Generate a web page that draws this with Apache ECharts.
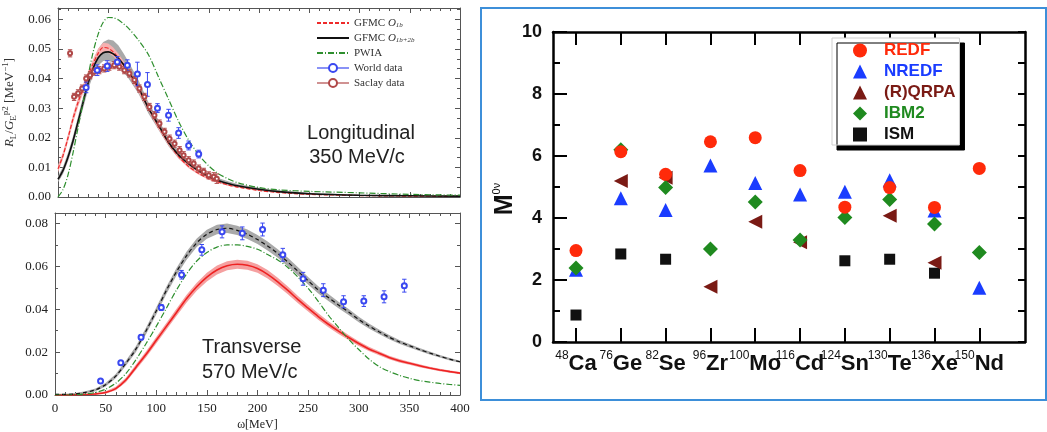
<!DOCTYPE html>
<html><head><meta charset="utf-8">
<script src="https://cdn.jsdelivr.net/npm/echarts@6/dist/echarts.min.js"></script>
<style>html,body{margin:0;padding:0;background:#fff}#c{width:1047px;height:432px}</style>
</head><body><div id="c"></div>
<script>
// ---------- Left top: longitudinal response ----------
const omegaL = [0,5,10,15,20,25,30,35,40,45,50,55,60,65,70,80,90,100,110,120,130,140,150,160,170,180,200,220,250,300,350,400];
const longGFMC1b   = [0.0095,0.0140,0.0200,0.0265,0.0320,0.0365,0.0410,0.0450,0.0485,0.0505,0.0502,0.0490,0.0470,0.0447,0.0422,0.0365,0.0300,0.0238,0.0182,0.0137,0.0103,0.0080,0.0062,0.0050,0.0040,0.0033,0.0022,0.0015,0.0009,0.0005,0.0003,0.0002];
const longGFMC1bHi = [0.0107,0.0152,0.0213,0.0279,0.0335,0.0380,0.0425,0.0466,0.0501,0.0521,0.0518,0.0505,0.0484,0.0460,0.0434,0.0376,0.0310,0.0247,0.0190,0.0144,0.0109,0.0085,0.0066,0.0053,0.0043,0.0035,0.0024,0.0016,0.0010,0.0006,0.0004,0.0003];
const longGFMC1bLo = [0.0083,0.0128,0.0187,0.0251,0.0305,0.0350,0.0395,0.0434,0.0469,0.0489,0.0486,0.0475,0.0456,0.0434,0.0410,0.0354,0.0290,0.0229,0.0174,0.0130,0.0097,0.0075,0.0058,0.0047,0.0037,0.0031,0.0020,0.0014,0.0008,0.0004,0.0002,0.0001];
const longGFMC12b   = [0.0060,0.0090,0.0135,0.0190,0.0255,0.0320,0.0385,0.0435,0.0470,0.0487,0.0490,0.0483,0.0468,0.0448,0.0425,0.0370,0.0300,0.0243,0.0185,0.0142,0.0112,0.0088,0.0068,0.0055,0.0045,0.0037,0.0026,0.0018,0.0011,0.0006,0.0004,0.0003];
const longGFMC12bHi = [0.0070,0.0102,0.0149,0.0206,0.0273,0.0340,0.0407,0.0461,0.0500,0.0523,0.0532,0.0528,0.0512,0.0486,0.0457,0.0395,0.0320,0.0260,0.0200,0.0155,0.0123,0.0098,0.0077,0.0063,0.0052,0.0043,0.0031,0.0022,0.0014,0.0008,0.0006,0.0004];
const longGFMC12bLo = [0.0050,0.0078,0.0121,0.0174,0.0237,0.0300,0.0363,0.0411,0.0444,0.0459,0.0460,0.0453,0.0440,0.0422,0.0401,0.0349,0.0282,0.0227,0.0171,0.0130,0.0101,0.0078,0.0059,0.0047,0.0038,0.0031,0.0021,0.0014,0.0008,0.0004,0.0002,0.0002];
const longPWIA = [0.0000,0.0025,0.0075,0.0150,0.0235,0.0320,0.0410,0.0490,0.0550,0.0590,0.0606,0.0605,0.0598,0.0585,0.0570,0.0530,0.0480,0.0405,0.0330,0.0255,0.0192,0.0143,0.0105,0.0078,0.0060,0.0047,0.0032,0.0024,0.0019,0.0014,0.0009,0.0006];
// [omega, value, error]
const longWorld = [[28,0.0370,0.0018],[39,0.0428,0.0018],[49,0.0442,0.0018],[59,0.0456,0.0018],[69,0.0445,0.0018],[79,0.0415,0.0040],[89,0.0380,0.0040],[99,0.0300,0.0015],[110,0.0276,0.0020],[120,0.0216,0.0018],[130,0.0174,0.0015],[140,0.0145,0.0013]];
const longSaclay = [[12,0.0485,0.0012],[16,0.0338,0.0012],[20,0.0350,0.0012],[24,0.0366,0.0012],[28,0.0400,0.0012],[32,0.0411,0.0012],[36,0.0423,0.0012],[41,0.0428,0.0012],[46,0.0434,0.0012],[51,0.0440,0.0012],[56,0.0445,0.0012],[61,0.0440,0.0012],[66,0.0428,0.0012],[71,0.0417,0.0012],[76,0.0395,0.0012],[81,0.0366,0.0012],[86,0.0338,0.0012],[91,0.0304,0.0012],[96,0.0276,0.0012],[101,0.0248,0.0012],[106,0.0220,0.0012],[111,0.0197,0.0012],[116,0.0180,0.0012],[121,0.0158,0.0012],[125,0.0141,0.0012],[130,0.0124,0.0012],[135,0.0113,0.0012],[140,0.0096,0.0012],[145,0.0085,0.0012],[150,0.0073,0.0012],[155,0.0068,0.0014],[158,0.0062,0.0016]];

// ---------- Left bottom: transverse response ----------
const omegaT = [0,10,20,30,40,50,60,70,80,90,100,110,120,130,140,150,160,170,180,190,200,210,220,230,240,250,260,270,280,290,300,310,320,330,340,350,360,370,380,390,400];
const transGFMC1b   = [0.0000,0.0000,0.0001,0.0002,0.0005,0.0012,0.0030,0.0070,0.0130,0.0190,0.0255,0.0320,0.0385,0.0450,0.0505,0.0550,0.0583,0.0603,0.0610,0.0605,0.0590,0.0563,0.0528,0.0488,0.0445,0.0405,0.0366,0.0330,0.0298,0.0268,0.0240,0.0215,0.0195,0.0175,0.0160,0.0148,0.0136,0.0126,0.0117,0.0109,0.0102];
const transGFMC1bHi = [0.0001,0.0001,0.0003,0.0005,0.0009,0.0018,0.0038,0.0080,0.0142,0.0204,0.0270,0.0336,0.0402,0.0468,0.0524,0.0570,0.0604,0.0624,0.0631,0.0626,0.0610,0.0583,0.0547,0.0506,0.0462,0.0421,0.0381,0.0344,0.0311,0.0280,0.0251,0.0225,0.0204,0.0183,0.0168,0.0155,0.0143,0.0132,0.0123,0.0114,0.0107];
const transGFMC1bLo = [0.0000,0.0000,0.0000,0.0000,0.0001,0.0006,0.0022,0.0060,0.0118,0.0176,0.0240,0.0304,0.0368,0.0432,0.0486,0.0530,0.0562,0.0582,0.0589,0.0584,0.0570,0.0543,0.0509,0.0470,0.0428,0.0389,0.0351,0.0316,0.0285,0.0256,0.0229,0.0205,0.0186,0.0167,0.0152,0.0141,0.0129,0.0120,0.0111,0.0104,0.0097];
const transGFMC12b   = [0.0003,0.0003,0.0005,0.0012,0.0024,0.0048,0.0088,0.0148,0.0215,0.0300,0.0392,0.0488,0.0575,0.0650,0.0710,0.0750,0.0772,0.0778,0.0768,0.0750,0.0725,0.0695,0.0660,0.0620,0.0577,0.0533,0.0490,0.0455,0.0420,0.0387,0.0352,0.0322,0.0295,0.0270,0.0248,0.0230,0.0212,0.0196,0.0181,0.0167,0.0155];
const transGFMC12bHi = [0.0006,0.0006,0.0009,0.0017,0.0030,0.0056,0.0098,0.0160,0.0229,0.0315,0.0408,0.0505,0.0593,0.0669,0.0730,0.0771,0.0794,0.0800,0.0790,0.0772,0.0746,0.0716,0.0680,0.0640,0.0596,0.0551,0.0507,0.0471,0.0435,0.0401,0.0365,0.0334,0.0306,0.0280,0.0257,0.0238,0.0219,0.0203,0.0187,0.0173,0.0160];
const transGFMC12bLo = [0.0000,0.0000,0.0001,0.0007,0.0018,0.0040,0.0078,0.0136,0.0201,0.0285,0.0376,0.0471,0.0557,0.0631,0.0690,0.0729,0.0750,0.0756,0.0746,0.0728,0.0704,0.0674,0.0640,0.0600,0.0558,0.0515,0.0473,0.0439,0.0405,0.0373,0.0339,0.0310,0.0284,0.0260,0.0239,0.0222,0.0205,0.0189,0.0175,0.0161,0.0150];
const transPWIA = [0.0000,0.0000,0.0002,0.0005,0.0012,0.0027,0.0055,0.0100,0.0165,0.0240,0.0320,0.0405,0.0490,0.0565,0.0625,0.0665,0.0690,0.0700,0.0700,0.0693,0.0680,0.0655,0.0630,0.0595,0.0550,0.0498,0.0437,0.0372,0.0315,0.0260,0.0212,0.0168,0.0133,0.0110,0.0092,0.0078,0.0067,0.0060,0.0054,0.0049,0.0045];
const transWorld = [[45,0.0065,0.0005],[65,0.0150,0.0006],[85,0.0269,0.0012],[105,0.0408,0.0014],[125,0.0561,0.0020],[145,0.0677,0.0025],[165,0.0761,0.0028],[185,0.0754,0.0030],[205,0.0772,0.0030],[225,0.0654,0.0030],[245,0.0542,0.0030],[265,0.0489,0.0030],[285,0.0435,0.0028],[305,0.0438,0.0025],[325,0.0458,0.0028],[345,0.0510,0.0030]];

// ---------- Right: nuclear matrix elements ----------
const massNumbers = ['48','76','82','96','100','116','124','130','136','150'];
const elements = ['Ca','Ge','Se','Zr','Mo','Cd','Sn','Te','Xe','Nd'];
const REDF  = [2.95,6.14,5.41,6.46,6.59,5.53,4.35,4.98,4.34,5.60];
const NREDF = [2.33,4.64,4.26,5.69,5.13,4.76,4.85,5.22,4.24,1.75];
const RQRPA = [null,5.19,5.30,1.78,3.88,3.22,null,4.07,2.56,null];
const IBM2  = [2.39,6.20,4.98,3.00,4.52,3.29,4.02,4.60,3.81,2.89];
const ISM   = [0.87,2.84,2.67,null,null,null,2.62,2.67,2.22,null];
const tickIdx = [0,1,2,3,4,5,6,7,8,9];
const labelIdxEven = [0,2,4,6,8];
const labelIdxOdd = [1,3,5,7,9];

// ---------- helpers ----------
const SERIF = 'Liberation Serif';
const SANS = 'Liberation Sans';
const pairs = (xs, ys) => xs.map((x, i) => [x, ys[i]]);
function bandSeries(xs, lo, hi, color, xi, yi) {
  return {
    type: 'custom', silent: true, clip: true, xAxisIndex: xi, yAxisIndex: yi, z: 1,
    data: xs.map((x, i) => [x, lo[i], hi[i]]),
    encode: { x: 0, y: [1, 2] },
    renderItem: function (params, api) {
      if (params.dataIndex !== 0) return null;
      const pts = [];
      for (let i = 0; i < xs.length; i++) pts.push(api.coord([xs[i], lo[i]]));
      for (let i = xs.length - 1; i >= 0; i--) pts.push(api.coord([xs[i], hi[i]]));
      return { type: 'polygon', shape: { points: pts }, style: { fill: color } };
    }
  };
}
function errSeries(data, color, xi, yi) {
  return {
    type: 'custom', silent: true, xAxisIndex: xi, yAxisIndex: yi, z: 4,
    data: data, encode: { x: 0, y: 1 },
    renderItem: function (params, api) {
      const x = api.value(0), y = api.value(1), e = api.value(2);
      const a = api.coord([x, y - e]), b = api.coord([x, y + e]);
      const st = { stroke: color, lineWidth: 1 };
      return { type: 'group', children: [
        { type: 'line', shape: { x1: a[0], y1: a[1], x2: b[0], y2: b[1] }, style: st },
        { type: 'line', shape: { x1: a[0] - 2.2, y1: a[1], x2: a[0] + 2.2, y2: a[1] }, style: st },
        { type: 'line', shape: { x1: b[0] - 2.2, y1: b[1], x2: b[0] + 2.2, y2: b[1] }, style: st }
      ]};
    }
  };
}
function lineSeries(name, xs, ys, color, type, width, xi, yi) {
  return { name: name, type: 'line', data: pairs(xs, ys), symbol: 'none', smooth: 0.3,
    xAxisIndex: xi, yAxisIndex: yi, z: 3,
    lineStyle: { color: color, type: type, width: width }, itemStyle: { color: color } };
}
function pointSeries(name, data, color, size, xi, yi) {
  return { name: name, type: 'line', data: data.map(d => [d[0], d[1]]), symbol: 'emptyCircle',
    symbolSize: size, showSymbol: true, xAxisIndex: xi, yAxisIndex: yi, z: 5,
    lineStyle: { opacity: 0 }, itemStyle: { color: color, borderWidth: 0.9 } };
}
const FRAME = '#555';
function leftX(gi, pos, labels, name) {
  return { gridIndex: gi, type: 'value', position: pos, min: 0, max: 400, interval: 50,
    axisLine: { show: true, onZero: false, lineStyle: { color: FRAME, width: 1 } },
    axisTick: { show: true, inside: true, length: 5, lineStyle: { color: FRAME } },
    minorTick: { show: true, splitNumber: 5, length: 3, lineStyle: { color: FRAME } },
    axisLabel: { show: labels, fontFamily: SERIF, fontSize: 13, color: '#222', margin: 7 },
    splitLine: { show: false },
    name: name || '', nameLocation: 'middle', nameGap: 24,
    nameTextStyle: { fontFamily: SERIF, fontSize: 12, color: '#222' } };
}
function leftY(gi, pos, max, interval, minorSplit, labels) {
  return { gridIndex: gi, type: 'value', position: pos, min: 0, max: max, interval: interval,
    axisLine: { show: true, onZero: false, lineStyle: { color: FRAME, width: 1 } },
    axisTick: { show: true, inside: true, length: 5, lineStyle: { color: FRAME } },
    minorTick: { show: true, splitNumber: minorSplit, length: 3, lineStyle: { color: FRAME } },
    axisLabel: { show: labels, showMaxLabel: false, fontFamily: SERIF, fontSize: 13, color: '#222', margin: 7,
      formatter: v => (Math.abs(v / interval - Math.round(v / interval)) < 1e-6 ? v.toFixed(2) : '') },
    splitLine: { show: false } };
}
function nucleusLabelAxis(values, withLine) {
  return { gridIndex: 2, type: 'value', position: 'bottom', offset: 0, min: -0.513, max: 10.02,
    axisLine: { show: withLine, onZero: false, lineStyle: { color: '#000', width: 2.5 } },
    axisTick: { show: withLine, inside: true, length: 14, customValues: tickIdx, lineStyle: { color: '#000', width: 2 } },
    axisLabel: { show: true, customValues: values, showMinLabel: true, showMaxLabel: true,
      margin: 8, color: '#111', fontFamily: SANS,
      formatter: v => { const i = Math.round(v); return '{s|' + massNumbers[i] + '}{e|' + elements[i] + '}'; },
      rich: { s: { fontSize: 12, fontFamily: SANS, color: '#111', verticalAlign: 'top', lineHeight: 12 },
              e: { fontSize: 22, fontFamily: SANS, fontWeight: 'bold', color: '#111', lineHeight: 27 } } },
    splitLine: { show: false } };
}
const nullIfMissing = arr => arr.map((v, i) => v == null ? null : [i, v]);

const chart = echarts.init(document.getElementById('c'), null, { renderer: 'canvas' });
const option = {
  backgroundColor: '#fff',
  animation: false,
  grid: [
    { left: 55, top: 8, width: 405, height: 189 },
    { left: 55, top: 213, width: 405, height: 184 },
    { left: 553, top: 32, width: 472, height: 310 }
  ],
  xAxis: [
    leftX(0, 'bottom', false),
    leftX(0, 'top', false),
    leftX(1, 'bottom', true, 'ω[MeV]'),
    leftX(1, 'top', false),
    nucleusLabelAxis(labelIdxEven, true),
    { gridIndex: 2, type: 'value', position: 'top', min: -0.513, max: 10.02,
      axisLine: { show: true, onZero: false, lineStyle: { color: '#000', width: 2.5 } },
      axisTick: { show: true, inside: true, length: 13, customValues: tickIdx, lineStyle: { color: '#000', width: 2 } },
      axisLabel: { show: false }, splitLine: { show: false } },
    nucleusLabelAxis(labelIdxOdd, false)
  ],
  yAxis: [
    Object.assign(leftY(0, 'left', 0.0638, 0.01, 3, true), {
      name: '{i|R}{sb|L}{n|/}{i|G}{sb|E}{sp|p2}{n| [MeV}{sp|−1}{n|]}',
      nameLocation: 'middle', nameGap: 40,
      nameTextStyle: { fontFamily: SERIF, fontSize: 13, color: '#333',
        rich: { i: { fontFamily: SERIF, fontStyle: 'italic', fontSize: 13, color: '#333', lineHeight: 17 },
                n: { fontFamily: SERIF, fontSize: 13, color: '#333', lineHeight: 17 },
                sb: { fontFamily: SERIF, fontSize: 9, color: '#333', verticalAlign: 'bottom', lineHeight: 9 },
                sp: { fontFamily: SERIF, fontSize: 9, color: '#333', verticalAlign: 'top', lineHeight: 9 } } } }),
    leftY(0, 'right', 0.0638, 0.01, 3, false),
    leftY(1, 'left', 0.0849, 0.02, 2, true),
    leftY(1, 'right', 0.0849, 0.02, 2, false),
    { gridIndex: 2, type: 'value', position: 'left', min: 0, max: 10, interval: 2,
      axisLine: { show: true, onZero: false, lineStyle: { color: '#000', width: 2.5 } },
      axisTick: { show: true, inside: true, length: 14, lineStyle: { color: '#000', width: 2 } },
      minorTick: { show: true, splitNumber: 2, length: 7, lineStyle: { color: '#000', width: 2 } },
      axisLabel: { fontFamily: SANS, fontWeight: 'bold', fontSize: 18, color: '#111', margin: 11 },
      splitLine: { show: false },
      name: '{m|M}{s|0ν}', nameLocation: 'middle', nameGap: 34,
      nameTextStyle: { padding: [0, 24, 0, 0],
        rich: { m: { fontFamily: SANS, fontWeight: 'bold', fontSize: 25, color: '#111', lineHeight: 28 },
                s: { fontFamily: SANS, fontSize: 11, color: '#111', verticalAlign: 'top', lineHeight: 12 } } } },
    { gridIndex: 2, type: 'value', position: 'right', min: 0, max: 10, interval: 1,
      axisLine: { show: true, onZero: false, lineStyle: { color: '#000', width: 2.5 } },
      axisTick: { show: true, inside: true, length: 7, lineStyle: { color: '#000', width: 2 } },
      axisLabel: { show: false }, splitLine: { show: false } }
  ],
  legend: [
    { orient: 'vertical', left: 316, top: 17, itemWidth: 32, itemHeight: 10, itemGap: 3, padding: 0,
      data: [
        { name: 'GFMC O1b', itemStyle: { opacity: 0 } },
        { name: 'GFMC O1b+2b', itemStyle: { opacity: 0 } },
        { name: 'PWIA', itemStyle: { opacity: 0 } },
        { name: 'World data', lineStyle: { opacity: 1, width: 1.2, color: '#3a48f0', type: 'solid' } },
        { name: 'Saclay data', lineStyle: { opacity: 1, width: 1.2, color: '#b04848', type: 'solid' } }
      ],
      formatter: n => ({ 'GFMC O1b': 'GFMC {i|O}{b|1b}', 'GFMC O1b+2b': 'GFMC {i|O}{b|1b+2b}' }[n] || n),
      textStyle: { fontFamily: SERIF, fontSize: 11, color: '#333', lineHeight: 12,
        rich: { i: { fontFamily: SERIF, fontStyle: 'italic', fontSize: 11, color: '#333', lineHeight: 12 },
                b: { fontFamily: SERIF, fontStyle: 'italic', fontSize: 7, color: '#333', verticalAlign: 'bottom', lineHeight: 7 } } } },
    { orient: 'vertical', left: 832, top: 38, itemWidth: 14, itemHeight: 14, itemGap: 4,
      padding: [4, 4, 2, 21], backgroundColor: '#fff', borderColor: '#cfcfcf', borderWidth: 1,
      shadowColor: '#000', shadowBlur: 0, shadowOffsetX: 5, shadowOffsetY: 5,
      data: [
        { name: 'REDF', textStyle: { color: '#ff2a0a' } },
        { name: 'NREDF', textStyle: { color: '#1a3cff' } },
        { name: '(R)QRPA', textStyle: { color: '#7a1a14' } },
        { name: 'IBM2', textStyle: { color: '#1f8a1f' } },
        { name: 'ISM', textStyle: { color: '#111' } }
      ],
      textStyle: { fontFamily: SANS, fontWeight: 'bold', fontSize: 17, lineHeight: 17, padding: [0, 0, 0, 12] } }
  ],
  graphic: [
    { type: 'rect', shape: { x: 481, y: 8, width: 565, height: 392 }, silent: true,
      style: { fill: 'none', stroke: '#3d8fd9', lineWidth: 2 } },
    { type: 'text', x: 361, y: 133, silent: true,
      style: { text: 'Longitudinal', fontFamily: SANS, fontSize: 20, fill: '#222', align: 'center', verticalAlign: 'middle' } },
    { type: 'text', x: 357, y: 157, silent: true,
      style: { text: '350 MeV/c', fontFamily: SANS, fontSize: 20, fill: '#222', align: 'center', verticalAlign: 'middle' } },
    { type: 'text', x: 202, y: 347, silent: true,
      style: { text: 'Transverse', fontFamily: SANS, fontSize: 20, fill: '#222', align: 'left', verticalAlign: 'middle' } },
    { type: 'text', x: 202, y: 372, silent: true,
      style: { text: '570 MeV/c', fontFamily: SANS, fontSize: 20, fill: '#222', align: 'left', verticalAlign: 'middle' } }
  ],
  series: [
    // longitudinal
    bandSeries(omegaL, longGFMC12bLo, longGFMC12bHi, '#a9a9a9', 0, 0),
    bandSeries(omegaL, longGFMC1bLo, longGFMC1bHi, '#f6b0b0', 0, 0),
    lineSeries('GFMC O1b', omegaL, longGFMC1b, '#ee2a2a', [4, 2], 1.2, 0, 0),
    lineSeries('GFMC O1b+2b', omegaL, longGFMC12b, '#111', 'solid', 1.6, 0, 0),
    lineSeries('PWIA', omegaL, longPWIA, '#2e8f2e', [6, 2, 1, 2], 1.2, 0, 0),
    errSeries(longSaclay, '#b04848', 0, 0),
    pointSeries('Saclay data', longSaclay, '#b04848', 4, 0, 0),
    errSeries(longWorld, '#3a48f0', 0, 0),
    pointSeries('World data', longWorld, '#3a48f0', 5, 0, 0),
    // transverse
    bandSeries(omegaT, transGFMC12bLo, transGFMC12bHi, '#a9a9a9', 2, 2),
    bandSeries(omegaT, transGFMC1bLo, transGFMC1bHi, '#f5a0a0', 2, 2),
    lineSeries('T GFMC O1b', omegaT, transGFMC1b, '#ee2222', 'solid', 1.6, 2, 2),
    lineSeries('T GFMC O1b+2b', omegaT, transGFMC12b, '#111', [4, 3], 1.2, 2, 2),
    lineSeries('T PWIA', omegaT, transPWIA, '#2e8f2e', [6, 2, 1, 2], 1.2, 2, 2),
    errSeries(transWorld, '#3a48f0', 2, 2),
    pointSeries('T World data', transWorld, '#3a48f0', 5, 2, 2),
    // matrix elements
    { name: 'ISM', type: 'scatter', xAxisIndex: 4, yAxisIndex: 4, symbol: 'rect', symbolSize: 11,
      itemStyle: { color: '#111', opacity: 1 }, data: nullIfMissing(ISM) },
    { name: 'NREDF', type: 'scatter', xAxisIndex: 4, yAxisIndex: 4, symbol: 'triangle', symbolSize: 14,
      itemStyle: { color: '#1a3cff', opacity: 1 }, data: nullIfMissing(NREDF) },
    { name: '(R)QRPA', type: 'scatter', xAxisIndex: 4, yAxisIndex: 4, symbol: 'triangle', symbolRotate: 90, symbolSize: 14,
      itemStyle: { color: '#7a1a14', opacity: 1 }, data: nullIfMissing(RQRPA) },
    { name: 'IBM2', type: 'scatter', xAxisIndex: 4, yAxisIndex: 4, symbol: 'diamond', symbolSize: 15,
      itemStyle: { color: '#1f8a1f', opacity: 1 }, data: nullIfMissing(IBM2) },
    { name: 'REDF', type: 'scatter', xAxisIndex: 4, yAxisIndex: 4, symbol: 'circle', symbolSize: 13,
      itemStyle: { color: '#ff2a0a', opacity: 1 }, data: nullIfMissing(REDF) }
  ]
};
chart.setOption(option);
</script></body></html>
